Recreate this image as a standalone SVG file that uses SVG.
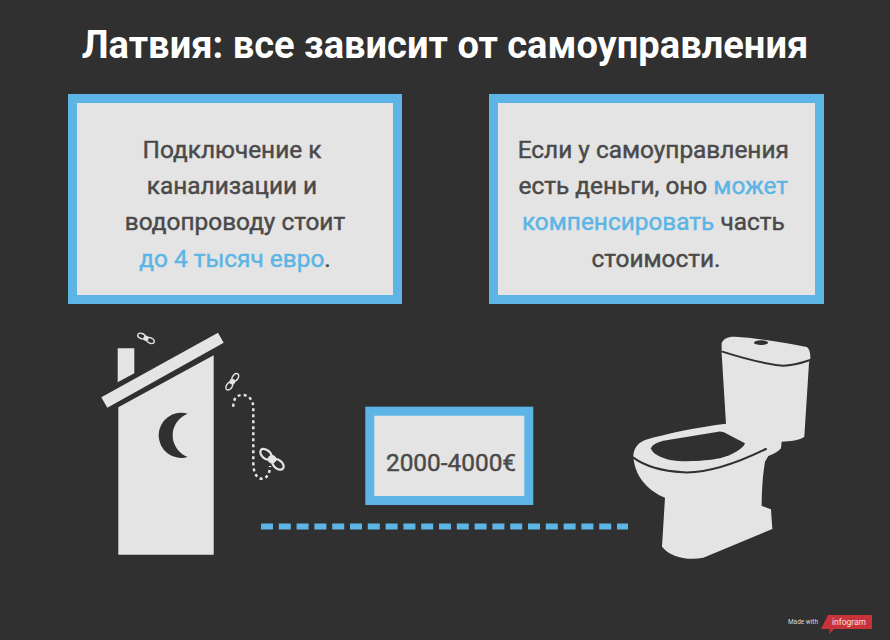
<svg xmlns="http://www.w3.org/2000/svg" width="890" height="640" viewBox="0 0 890 640">
<style>
text{font-family:Roboto,"Liberation Sans",sans-serif;text-anchor:middle}
.t{font-size:24.400px;font-weight:400;fill:#4a4a4a;stroke:#4a4a4a;stroke-width:.45px}
.b{fill:#5cb5e5;stroke:#5cb5e5}
.box{fill:#e4e4e4;stroke:#5cb5e5;stroke-width:9}
.l{fill:#e4e4e4}
.w{fill:none;stroke:#e4e4e4;stroke-width:1.9}
.d{fill:none;stroke:#303030;stroke-linecap:round}
</style>
<defs>
<g id="fly"><ellipse cx="-6.500" cy="0" rx="5.500" ry="3.500" class="w"/><ellipse cx="6.500" cy="0" rx="5.500" ry="3.500" class="w"/><circle r="3.600" class="l"/></g>
</defs>
<rect width="890" height="640" fill="#303030"/>
<text x="445" y="57.500" fill="#fff" style="font-size:38.100px;font-weight:700">Латвия: все зависит от самоуправления</text>
<g id="box-left"><rect class="box" x="72.500" y="98.500" width="325" height="201"/>
<text class="t" x="232" y="157.500">Подключение к</text>
<text class="t" x="232" y="194">канализации и</text>
<text class="t" x="235" y="230">водопроводу стоит</text>
<text class="t" x="235" y="266.500"><tspan class="b">до 4 тысяч евро</tspan>.</text></g>
<g id="box-right"><rect class="box" x="493.500" y="98.500" width="326" height="201"/>
<text class="t" x="653.300" y="157.500">Если у самоуправления</text>
<text class="t" x="653.300" y="194">есть деньги, оно <tspan class="b">может</tspan></text>
<text class="t" x="653.300" y="230"><tspan class="b">компенсировать</tspan> часть</text>
<text class="t" x="656" y="266.500">стоимости.</text></g>
<g id="outhouse">
<path class="l" d="M117.700 348.300H134.300V373.300L117.700 382.300Z"/>
<path class="l" d="M101.300 397.300L218 332.700L223.700 342.700L107.300 407.700Z"/>
<path class="l" d="M118.300 407.300L213.700 355.300V554.700H118.300Z"/>
<path fill="#303030" d="M187.700 413.700A22.600 22.600 0 1 0 187.700 457A23.100 23.100 0 0 1 187.700 413.700Z"/>
</g>
<g id="flies">
<use href="#fly" transform="translate(146 338.300) rotate(27) scale(.75)"/>
<use href="#fly" transform="translate(232.300 381.700) rotate(-55) scale(.8)"/>
<use href="#fly" transform="translate(272 459.300) rotate(40) scale(1.200)"/>
</g>
<g id="connectors" fill="none">
<path d="M233.300 406.700C233 399 237 395 242 395C249 395 253.300 400 253.300 408V463C253.300 473 257 478.700 262 478.700C267 478.700 270 473 270 466" stroke="#e4e4e4" stroke-width="2.500" stroke-dasharray="3 3"/>
<path d="M261 526.500H628" stroke="#5cb5e5" stroke-width="6" stroke-dasharray="12 5.800"/>
</g>
<g id="box-price"><rect class="box" x="369.800" y="411.200" width="159" height="89.300"/>
<text class="t" x="451" y="470.500">2000-4000€</text></g>
<g id="toilet" transform="translate(620 325) scale(.3333)">
<path class="l" d="M305 55C308 42 325 34 345 35C400 38 480 50 560 66C568 70 572 85 571 100C570 105 568 108 567 115L553 335C540 345 510 349 485 350L483 370C475 380 455 390 445 393L435 410C428 450 425 500 425 543L453 553L457 612L250 698C200 708 150 695 126 665L135 518C90 500 45 460 40 395C40 375 50 355 75 345C140 325 240 305 318 296L305 85Z"/>
<path class="d" stroke-width="6" d="M307 80C370 100 440 118 490 122C520 122 550 112 571 105"/>
<ellipse cx="423" cy="53" rx="21" ry="7" fill="#303030"/>
<path fill="#303030" d="M93 370C95 360 110 352 130 347L295 320C305 319 312 322 320 326L375 355C370 370 340 390 300 400C260 408 190 412 150 405C120 398 95 385 93 370Z"/>
<path class="d" stroke-width="6" d="M40 398C70 420 120 438 190 442C260 445 340 420 438 372"/>
</g>
<g id="credit">
<text x="803" y="624" fill="#d8d8d8" style="font-size:6.500px">Made with</text>
<path fill="#c8333a" d="M828 615H872V629H834L829 634L830 629H821Z"/>
<text x="849" y="625" fill="#f4e0e0" style="font-size:8.500px">infogram</text>
</g>
</svg>
